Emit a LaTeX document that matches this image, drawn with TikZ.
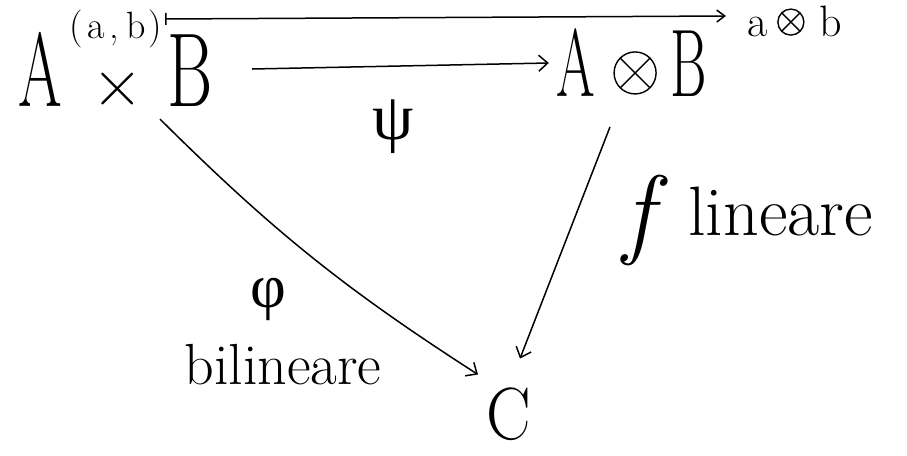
\documentclass[tikz,border=0pt]{standalone}
\usepackage{fontspec}
\newfontfamily\greek{Liberation Serif}
\usetikzlibrary{arrows.meta}
\newcommand{\ocross}[2]{\tikz[baseline={(0pt,#2)},line width=1.4pt]{\draw (0pt,0pt) circle (#1); \draw (-0.7*#1,-0.7*#1)--(0.7*#1,0.7*#1) (-0.7*#1,0.7*#1)--(0.7*#1,-0.7*#1);}}
\begin{document}
\begin{tikzpicture}[x=1pt,y=-1pt,
  every node/.style={inner sep=0pt,outer sep=0pt},
  ink/.style={line width=1.5pt,black},
  arr/.style={ink,-{Straight Barb[length=9pt,width=16pt]}},
  mapsto/.style={ink,{Bar[width=12pt]}-{Straight Barb[length=8pt,width=12pt]}}]
\useasboundingbox (0,0) rectangle (907,455);
% objects
\node (AB) at (116,69) {\fontsize{105}{105}\selectfont\scalebox{0.6}[1]{A}\hspace{30pt}{\fontsize{70}{70}\selectfont ×}\hspace{25pt}\scalebox{0.66}[1]{B}};
\node (AotB) at (632,63) {\fontsize{96}{96}\selectfont\scalebox{0.58}[1]{A}\hspace{18pt}\ocross{21pt}{-24pt}\hspace{14pt}\scalebox{0.58}[1]{B}};
\node (C) at (509,414) {\fontsize{74}{74}\selectfont\scalebox{0.9}[1]{C}};
\node (ab) at (116,29) {\fontsize{38}{38}\selectfont (\hspace{4pt}a\hspace{5pt},\hspace{7pt}b\hspace{3pt})};
\node (aob) at (795,21) {\fontsize{44}{44}\selectfont a\hspace{9pt}\ocross{13pt}{-14pt}\hspace{15pt}b};
% labels
\node (psi) at (393,127) {\fontsize{66}{66}\selectfont\greek ψ};
\node (phi) at (268,299) {\fontsize{62}{62}\selectfont\greek φ};
\node (bil) at (283,365) {\fontsize{58}{58}\selectfont bilineare};
\node (flin) at (748,220) {{\fontsize{100}{100}\selectfont\itshape f}\hspace{35pt}\raisebox{10pt}{\fontsize{70}{70}\selectfont lineare}};
% connectors
\draw[mapsto] ([shift={(3,-10)}]ab.east) -- ([shift={(-22,-5)}]aob.west);
\draw[arr] ([xshift=39pt]AB.east) -- ([xshift=-8pt]AotB.west);
\draw[arr] ([shift={(44,13)}]AB.south) to[bend right=6] ([shift={(-31,-13)}]C.north);
\draw[arr] ([shift={(-22,30)}]AotB.south) -- ([shift={(11,-29)}]C.north);
\end{tikzpicture}
\end{document}
